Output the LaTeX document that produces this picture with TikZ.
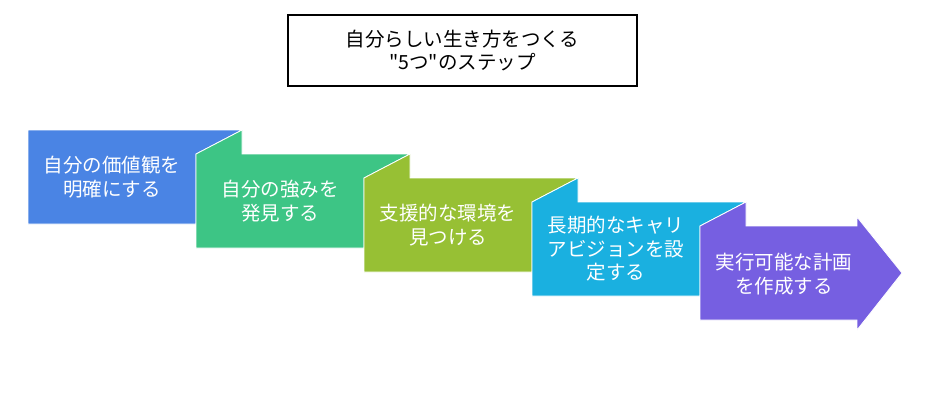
\documentclass[tikz,border=0pt]{standalone}
\usepackage{fontspec}
\setmainfont{Noto Sans CJK JP}[Ligatures=TeXOff]
\usepackage{tikz}
\definecolor{stepblue}{HTML}{4A84E4}
\definecolor{stepgreen}{HTML}{3DC585}
\definecolor{stepolive}{HTML}{97C034}
\definecolor{stepcyan}{HTML}{1AB0E0}
\definecolor{steppurple}{HTML}{765FE1}
\tikzset{
  steptext/.style={text=white, align=center, font=\fontsize{19.5}{23.5}\selectfont},
  stepshape/.style={draw=white, line width=0.8pt, line join=miter}
}

\begin{document}
\begin{tikzpicture}[x=1pt, y=-1pt]
    \useasboundingbox (0, 0) rectangle (927, 412);

    \node [draw, line width=1.5pt, minimum width=349pt, minimum height=71pt,
      align=center, font=\fontsize{19.5}{23.5}\selectfont] (title) at (462.5, 50.5)
      {自分らしい生き方をつくる\\"5つ"のステップ};

    \foreach \i/\col/\txt in {0/stepblue/{自分の価値観を\\明確にする},
        1/stepgreen/{自分の強みを\\発見する},
        2/stepolive/{支援的な環境を\\見つける},
        3/stepcyan/{長期的なキャリ\\アビジョンを設\\定する}} {
      \pgfmathsetmacro\xa{28 + 168 * \i}
      \pgfmathsetmacro\ya{130 + 24 * \i}
      \pgfmathsetmacro\f{\i > 0 ? 1 : 0}
      \filldraw [stepshape, fill=\col] (\xa, \ya) -- (\xa + 46 * \f, \ya - 24 * \f)
        -- (\xa + 46 * \f, \ya) -- (\xa + 214, \ya) -- (\xa + 168, \ya + 24)
        -- (\xa + 168, \ya + 94) -- (\xa, \ya + 94) -- cycle;
      \node [steptext] (step\i) at (\xa + 84, \ya + 47) {\txt};
    }

    \filldraw [stepshape, fill=steppurple] (700, 226) -- (746, 202) -- (746, 226)
      -- (857, 226) -- (857, 217) -- (902, 273) -- (857, 330) -- (857, 320)
      -- (700, 320) -- cycle;
    \node [steptext] (step4) at (784, 274) {実行可能な計画\\を作成する};
  \end{tikzpicture}
\end{document}
